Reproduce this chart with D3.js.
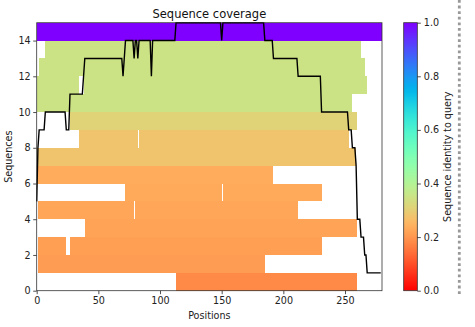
<!DOCTYPE html>
<html>
<head>
<meta charset="utf-8">
<script src="https://cdn.jsdelivr.net/npm/d3@7/dist/d3.min.js"></script>
<style>
  html, body { margin: 0; padding: 0; background: #fff; }
  svg { display: block; font-family: "DejaVu Sans", sans-serif; }
</style>
</head>
<body>
<svg id="chart" width="475" height="327"></svg>
<script>
// Alignment length (number of residue positions)
const seqLength = 280;

// Sequence identity to query, one value per row (row 0 at the bottom, query on top)
const rowIdentity = [0.18, 0.21, 0.215, 0.22, 0.225, 0.23, 0.235, 0.28, 0.28, 0.31, 0.35, 0.35, 0.35, 0.35, 1.0];

// Aligned (non-gap) stretches of each row, as [start, end) position ranges
const rowSegments = [
  [[113, 260]],                               // row 0
  [[1, 185]],                                 // row 1
  [[1, 24], [27, 231]],                       // row 2
  [[39, 260]],                                // row 3
  [[1, 79], [80, 212]],                       // row 4
  [[72, 150], [151, 231]],                    // row 5
  [[0, 192]],                                 // row 6
  [[0, 259]],                                 // row 7
  [[34, 82], [83, 253]],                      // row 8
  [[27, 260]],                                // row 9
  [[0, 256]],                                 // row 10
  [[0, 34], [38, 268]],                       // row 11
  [[2, 266]],                                 // row 12
  [[7, 263]],                                 // row 13
  [[0, 280]]                                  // row 14 (query)
];

// Coverage (aligned sequences per position) as [position, count] change points
const coverageSteps = [
  [0, 5], [1, 8], [2, 9], [7, 10], [24, 9], [27, 11], [38, 12], [39, 13],
  [70, 12], [71, 13], [72, 14], [79, 13], [80, 14], [82, 13], [83, 14],
  [93, 12], [94, 14], [113, 15], [150, 14], [151, 15], [185, 14], [192, 13],
  [212, 12], [231, 10], [253, 9], [256, 8], [259, 7], [260, 4], [263, 3],
  [266, 2], [268, 1]
];

const xTicks = [0, 50, 100, 150, 200, 250];
const yTicks = [0, 2, 4, 6, 8, 10, 12, 14];
const cbarTicks = [0.0, 0.2, 0.4, 0.6, 0.8, 1.0];

// matplotlib "rainbow" colormap, reversed
function rainbowR(v) {
  const t = 1 - v;
  const r = Math.min(1, Math.abs(2 * t - 0.5));
  const g = Math.max(0, Math.sin(Math.PI * t));
  const b = Math.max(0, Math.cos(Math.PI * t / 2));
  return d3.rgb(r * 255, g * 255, b * 255).formatHex();
}

// Per-position coverage values from the change points
const coverage = d3.range(seqLength).map(i => {
  let c = coverageSteps[0][1];
  for (const [p, n] of coverageSteps) { if (p <= i) c = n; else break; }
  return c;
});

const svg = d3.select("#chart");
const plot = { left: 36.7, right: 382, top: 22.7, bottom: 290.7 };
const nRows = rowIdentity.length;

const x = d3.scaleLinear().domain([0, seqLength]).range([plot.left, plot.right]);
const y = d3.scaleLinear().domain([0, nRows]).range([plot.bottom, plot.top]);

// Coloured alignment rows
const rows = svg.append("g").attr("shape-rendering", "crispEdges");
rowSegments.forEach((segs, r) => {
  rows.selectAll(null)
    .data(segs)
    .enter().append("rect")
    .attr("x", d => x(d[0]))
    .attr("width", d => x(d[1]) - x(d[0]))
    .attr("y", y(r + 1))
    .attr("height", y(r) - y(r + 1))
    .attr("fill", rainbowR(rowIdentity[r]));
});

// Coverage line
svg.append("path")
  .datum(coverage)
  .attr("fill", "none")
  .attr("stroke", "#000")
  .attr("stroke-width", 1.4)
  .attr("d", d3.line().x((d, i) => x(i)).y(d => y(d)));

// Axes
const fs = "9.6px";
const xAxis = svg.append("g")
  .attr("transform", `translate(0,${plot.bottom})`)
  .call(d3.axisBottom(x).tickValues(xTicks).tickFormat(d3.format("d")).tickSize(3.5).tickPadding(2.5));
const yAxis = svg.append("g")
  .attr("transform", `translate(${plot.left},0)`)
  .call(d3.axisLeft(y).tickValues(yTicks).tickFormat(d3.format("d")).tickSize(3.5).tickPadding(2.5));
[xAxis, yAxis].forEach(a => {
  a.select(".domain").remove();
  a.selectAll(".tick line").attr("stroke", "#222").attr("stroke-width", 0.8);
  a.selectAll(".tick text").attr("fill", "#222").style("font-size", fs).style("font-family", "DejaVu Sans");
});

// Frame
svg.append("rect")
  .attr("x", plot.left).attr("y", plot.top)
  .attr("width", plot.right - plot.left).attr("height", plot.bottom - plot.top)
  .attr("fill", "none").attr("stroke", "#333").attr("stroke-width", 0.8);

// Titles
svg.append("text")
  .attr("x", (plot.left + plot.right) / 2).attr("y", 17.5)
  .attr("text-anchor", "middle").style("font-size", "11.5px").attr("fill", "#111")
  .text("Sequence coverage");
svg.append("text")
  .attr("x", (plot.left + plot.right) / 2).attr("y", 319)
  .attr("text-anchor", "middle").style("font-size", fs).attr("fill", "#222")
  .text("Positions");
svg.append("text")
  .attr("transform", `translate(12,${(plot.top + plot.bottom) / 2}) rotate(-90)`)
  .attr("text-anchor", "middle").style("font-size", fs).attr("fill", "#222")
  .text("Sequences");

// Colour bar
const cb = { left: 403.7, right: 417.3 };
const cy = d3.scaleLinear().domain([0, 1]).range([plot.bottom, plot.top]);
const grad = svg.append("defs").append("linearGradient")
  .attr("id", "cbar").attr("x1", 0).attr("y1", 1).attr("x2", 0).attr("y2", 0);
d3.range(0, 1.0001, 0.02).forEach(v => {
  grad.append("stop").attr("offset", v).attr("stop-color", rainbowR(v));
});
svg.append("rect")
  .attr("x", cb.left).attr("y", plot.top)
  .attr("width", cb.right - cb.left).attr("height", plot.bottom - plot.top)
  .attr("fill", "url(#cbar)").attr("stroke", "#333").attr("stroke-width", 0.8);
const cAxis = svg.append("g")
  .attr("transform", `translate(${cb.right},0)`)
  .call(d3.axisRight(cy).tickValues(cbarTicks).tickFormat(d3.format(".1f")).tickSize(3.5).tickPadding(3));
cAxis.select(".domain").remove();
cAxis.selectAll(".tick line").attr("stroke", "#222").attr("stroke-width", 0.8);
cAxis.selectAll(".tick text").attr("fill", "#222").style("font-size", fs).style("font-family", "DejaVu Sans");
svg.append("text")
  .attr("transform", `translate(450.5,${(plot.top + plot.bottom) / 2}) rotate(-90)`)
  .attr("text-anchor", "middle").style("font-size", fs).attr("fill", "#222")
  .text("Sequence identity to query");

// Dotted separator on the right
svg.append("line")
  .attr("x1", 459.3).attr("x2", 459.3).attr("y1", 0).attr("y2", 294)
  .attr("stroke", "#999").attr("stroke-width", 2.8).attr("stroke-dasharray", "2.8,2.8");
</script>
</body>
</html>
